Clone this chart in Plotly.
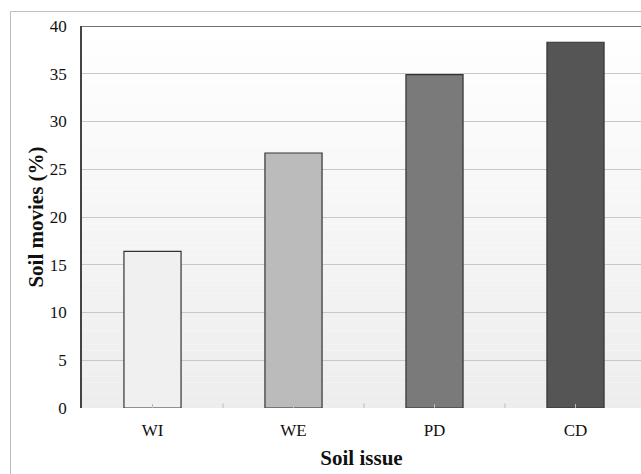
import plotly.graph_objects as go

categories = ["WI", "WE", "PD", "CD"]
values = [16.4, 26.7, 34.9, 38.3]
bar_colors = ["#f0f0f0", "#bbbbbb", "#7a7a7a", "#555555"]
y_ticks = [0, 5, 10, 15, 20, 25, 30, 35, 40]

W, H = 641, 474
L, T, B, R = 82, 26, 66, 0

fig = go.Figure()
fig.add_trace(go.Bar(
    x=categories, y=values,
    marker=dict(color=bar_colors, line=dict(color="#333333", width=1.2)),
    width=0.405,
))

shapes = []
# gradient background of plot area
n = 60
for i in range(n):
    f = i / (n - 1)
    c = int(round(255 - (255 - 237) * f))
    shapes.append(dict(type="rect", xref="x domain", yref="y domain",
                       x0=0, x1=1, y0=1 - (i + 1) / n, y1=1 - i / n,
                       fillcolor=f"rgb({c},{c},{c})", line=dict(width=0), layer="below"))
# outer chart frame (left and top edges, the rest lies outside the picture)
pw = W - L - R
ph = H - T - B
fx = (10.5 - L) / pw
fy = 1 + (T - 11.5) / ph
shapes.append(dict(type="line", xref="paper", yref="paper", x0=fx, x1=fx, y0=-0.2, y1=fy,
                   line=dict(color="#bdbdbd", width=1), layer="above"))
shapes.append(dict(type="line", xref="paper", yref="paper", x0=fx, x1=1.05, y0=fy, y1=fy,
                   line=dict(color="#bdbdbd", width=1), layer="above"))
# top border of plot area
shapes.append(dict(type="line", xref="x domain", yref="y", x0=0, x1=1, y0=40, y1=40,
                   line=dict(color="#444444", width=1.5), layer="above"))
# boundary ticks between categories
for b in [0.5, 1.5, 2.5]:
    shapes.append(dict(type="line", xref="x", yref="y domain", x0=b, x1=b, y0=0, y1=0.012,
                       line=dict(color="#bbbbbb", width=1), layer="above"))

fig.update_layout(
    width=W, height=H,
    margin=dict(l=L, r=R, t=T, b=B),
    paper_bgcolor="white",
    plot_bgcolor="rgba(0,0,0,0)",
    showlegend=False,
    shapes=shapes,
    font=dict(family="Liberation Serif", color="#111111", size=17),
    xaxis=dict(
        range=[-0.5, -0.5 + (W - L - R) / 141.0],
        showgrid=False, zeroline=False, showline=False,
        ticks="inside", ticklen=4, tickcolor="#bbbbbb",
        tickfont=dict(size=17), ticklabelstandoff=10,
        title=dict(text="<b>Soil issue</b>", font=dict(size=21), standoff=11),
    ),
    yaxis=dict(
        range=[0, 40], tickvals=y_ticks,
        showgrid=True, gridcolor="#c8c8c8", gridwidth=1,
        zeroline=False, showline=True, linecolor="#444444", linewidth=1.5,
        ticks="", tickfont=dict(size=17), ticklabelstandoff=10,
        title=dict(text="<b>Soil movies (%)</b>", font=dict(size=21), standoff=0),
    ),
)

fig.write_html("out.html", config={"displayModeBar": False},
               post_script="document.body.style.margin='0';document.body.style.padding='0';")
